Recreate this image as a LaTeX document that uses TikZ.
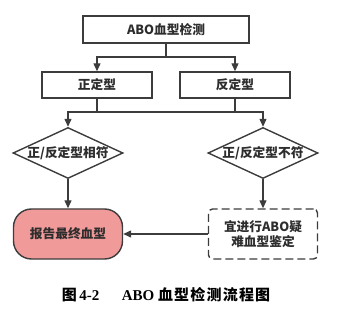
\documentclass[tikz,border=0pt]{standalone}
\usepackage{fontspec}
\newfontfamily\cjk{Noto Sans CJK SC}
\newfontfamily\capserif{Liberation Serif}
\usetikzlibrary{shapes.geometric,arrows.meta}
\definecolor{linegray}{RGB}{60,60,60}
\definecolor{textgray}{RGB}{45,45,45}
\definecolor{resultred}{RGB}{241,154,154}
\begin{document}
\begin{tikzpicture}[x=1pt, y=-1pt, font=\cjk\bfseries\fontsize{12.7}{15}\selectfont,
  box/.style={draw=linegray, line width=1.4pt, text=textgray, inner sep=0pt},
  dia/.style={box, shape=diamond, aspect=2.16, minimum width=110pt, minimum height=51pt, inner xsep=-4pt},
  arr/.style={draw=linegray, line width=1.3pt, -{Triangle[length=8pt,width=7pt]}},
  lnk/.style={draw=linegray, line width=1.3pt}]
\useasboundingbox (0,0) rectangle (364,315);
% Kästen
\node[box, minimum width=166pt, minimum height=27pt] (abo) at (166,29.5) {ABO血型检测};
\node[box, minimum width=110pt, minimum height=26pt] (zd) at (97,85) {正定型};
\node[box, minimum width=110pt, minimum height=26pt] (fd) at (235,85) {反定型};
\node[dia] (xf) at (68,153) {正/反定型相符};
\node[dia] (bf) at (263,153) {正/反定型不符};
\node[box, fill=resultred, rounded corners=18pt, minimum width=109pt, minimum height=50pt] (bg) at (68,234) {报告最终血型};
\node[box, dash pattern=on 8pt off 4pt, rounded corners=4pt, minimum width=109pt, minimum height=50pt, align=center] (yn) at (263,234) {宜进行ABO疑\\难血型鉴定};
% Verbindungen
\coordinate (j1) at (166,57); \coordinate (j2) at (166,112);
\draw[lnk] (abo.south) -- (j1); \draw[arr] (j1) -| (zd.north); \draw[arr] (j1) -| (fd.north);
\draw[lnk] (zd.south) -- (zd.south |- j2); \draw[lnk] (fd.south) -- (fd.south |- j2);
\draw[arr] (j2) -| (xf.north); \draw[arr] (j2) -| (bf.north);
\draw[arr] (xf.south) -- (bg.north); \draw[arr] (bf.south) -- (yn.north);
\draw[arr] (yn.west) -- (bg.east);
% Bildunterschrift
\node[font=\fontsize{15}{17}\selectfont, text=black] (cap) at (166,295) {\cjk\bfseries 图\,\capserif\bfseries 4-2\quad\ \ ABO\ \cjk\bfseries\addfontfeatures{LetterSpace=8} 血型检测流程图};
\end{tikzpicture}
\end{document}
